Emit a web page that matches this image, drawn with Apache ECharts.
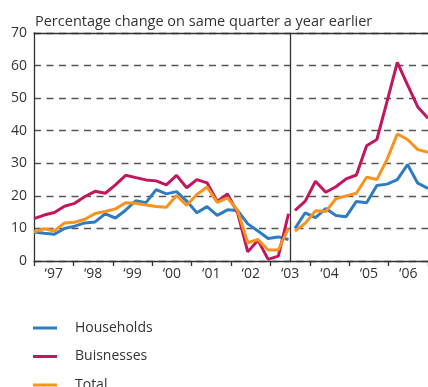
<!DOCTYPE html>
<html>
<head>
<meta charset="utf-8">
<script src="https://cdn.jsdelivr.net/npm/echarts@6/dist/echarts.min.js"></script>
<style>
  html, body { margin: 0; padding: 0; background: #fff; }
  #chart { width: 428px; height: 387px; }
</style>
</head>
<body>
<div id="chart"></div>
<script>
// Year labels along the bottom axis (one per calendar year)
const yearLabels = ['‘97', '‘98', '‘99', '‘00', '‘01', '‘02', '‘03', '‘04', '‘05', '‘06'];
const yTicks = [0, 10, 20, 30, 40, 50, 60, 70];

// Old series definition: 1997 Q1 – 2003 Q2 (quarterly, % change y/y)
const householdsOld = [8.9, 8.5, 8.2, 10.0, 10.7, 11.7, 12.0, 14.5, 13.2, 15.6, 18.5, 17.9, 21.9,
  20.6, 21.3, 18.4, 14.8, 16.7, 14.0, 15.7, 15.5, 11.4, 9.2, 6.9, 7.4, 6.6];
const businessesOld = [13.0, 14.1, 14.9, 16.8, 17.7, 19.8, 21.4, 20.8, 23.4, 26.3, 25.6, 24.9, 24.6,
  23.4, 26.3, 22.5, 25.0, 24.0, 18.3, 20.6, 14.8, 2.8, 6.4, 0.5, 1.5, 14.5];
const totalOld = [8.9, 9.9, 9.2, 11.7, 11.9, 12.8, 14.6, 15.2, 16.0, 17.9, 17.7, 17.2, 16.7,
  16.5, 20.1, 17.1, 20.4, 22.7, 18.0, 19.4, 15.5, 5.6, 6.6, 3.4, 3.4, 10.1];

// New series definition: 2003 Q3 – 2006 Q4
const householdsNew = [10.0, 14.8, 13.3, 16.1, 14.0, 13.6, 18.3, 17.9, 23.2, 23.6, 25.0, 29.6, 23.9, 22.3];
const businessesNew = [15.5, 18.4, 24.5, 21.1, 22.8, 25.2, 26.4, 35.4, 37.3, 49.0, 61.0, 54.1, 47.3, 43.8];
const totalNew = [9.2, 11.6, 15.4, 15.2, 19.1, 20.0, 20.8, 25.7, 25.0, 31.2, 39.0, 37.3, 34.2, 33.4];

const seriesNames = ['Households', 'Buisnesses', 'Total'];
const colors = ['#2f7cc0', '#c0175f', '#f7931e'];

const breakQuarter = householdsOld.length;          // first quarter of the new definition
const totalQuarters = yearLabels.length * 4;

// quarter index -> [x, y] pairs
function pairs(values, start) {
  return values.map((v, i) => [start + i, v]);
}

const FONT = '"Open Sans", "Noto Sans", sans-serif';
const TXT = '#333';
const TOP = 33, BOTTOM = 126;

const chart = echarts.init(document.getElementById('chart'), null, { renderer: 'canvas' });

const lineStyle = (c) => ({ type: 'line', showSymbol: false, symbol: 'none', lineStyle: { width: 3, color: c }, itemStyle: { color: c }, animation: false });

const option = {
  animation: false,
  textStyle: { fontFamily: FONT },
  title: {
    text: 'Percentage change on same quarter a year earlier',
    left: 35, top: 14, padding: 0,
    textStyle: { fontFamily: FONT, fontSize: 14.5, fontWeight: 'normal', color: TXT }
  },
  legend: {
    orient: 'vertical',
    left: 33, top: 319, height: 120, padding: 0,
    itemWidth: 24, itemHeight: 3, itemGap: 10.5,
    icon: 'rect',
    data: seriesNames,
    textStyle: { fontFamily: FONT, fontSize: 14, color: TXT, lineHeight: 18, padding: [0, 0, 0, 13] }
  },
  grid: [
    { left: 34, right: -1.6, top: TOP, bottom: BOTTOM },   // frame, ticks, gridlines
    { left: 34, width: 254.5, top: TOP, bottom: BOTTOM },  // old definition
    { left: 295, width: 133, top: TOP, bottom: BOTTOM }    // new definition
  ],
  xAxis: [
    { // year ticks
      gridIndex: 0, type: 'value', min: 0, max: totalQuarters, interval: 4, position: 'bottom',
      axisLine: { show: true, lineStyle: { color: '#333', width: 1.3 } },
      axisTick: { show: true, inside: false, length: 5, lineStyle: { color: '#333', width: 1.3 } },
      axisLabel: { show: false }, splitLine: { show: false }
    },
    { // year labels, centred on each year
      gridIndex: 0, type: 'value', min: 0, max: totalQuarters, interval: 2, position: 'bottom',
      axisLine: { show: false }, axisTick: { show: false }, splitLine: { show: false },
      axisLabel: {
        show: true, margin: 6, fontFamily: FONT, fontSize: 14, color: TXT,
        showMinLabel: false, showMaxLabel: false,
        formatter: (v) => (v % 4 === 2 ? yearLabels[(v - 2) / 4] : '')
      }
    },
    { // top frame line
      gridIndex: 0, type: 'value', min: 0, max: totalQuarters, position: 'top',
      axisLine: { show: true, lineStyle: { color: '#333', width: 1.3 } },
      axisTick: { show: false }, axisLabel: { show: false }, splitLine: { show: false }
    },
    { gridIndex: 1, type: 'value', min: 0, max: breakQuarter - 1, show: false },
    { gridIndex: 2, type: 'value', min: breakQuarter, max: totalQuarters - 1, show: false }
  ],
  yAxis: [
    {
      gridIndex: 0, type: 'value', min: yTicks[0], max: yTicks[yTicks.length - 1], interval: 10,
      axisLine: { show: true, lineStyle: { color: '#333', width: 1.3 } },
      axisTick: { show: false },
      axisLabel: { margin: 7, fontFamily: FONT, fontSize: 14, color: TXT },
      splitLine: { show: true, lineStyle: { color: '#555', width: 1.3, type: [7, 5.5] } }
    },
    { gridIndex: 1, type: 'value', min: 0, max: 70, show: false },
    { gridIndex: 2, type: 'value', min: 0, max: 70, show: false }
  ],
  series: [
    { // break between the two series definitions
      type: 'line', xAxisIndex: 0, yAxisIndex: 0, data: [], silent: true,
      markLine: {
        symbol: 'none', silent: true, label: { show: false },
        lineStyle: { color: '#333', width: 1.3, type: 'solid' },
        data: [{ xAxis: breakQuarter }]
      }
    },
    Object.assign(lineStyle(colors[0]), { name: seriesNames[0], xAxisIndex: 3, yAxisIndex: 1, data: pairs(householdsOld, 0) }),
    Object.assign(lineStyle(colors[1]), { name: seriesNames[1], xAxisIndex: 3, yAxisIndex: 1, data: pairs(businessesOld, 0) }),
    Object.assign(lineStyle(colors[2]), { name: seriesNames[2], xAxisIndex: 3, yAxisIndex: 1, data: pairs(totalOld, 0) }),
    Object.assign(lineStyle(colors[0]), { name: seriesNames[0], xAxisIndex: 4, yAxisIndex: 2, data: pairs(householdsNew, breakQuarter) }),
    Object.assign(lineStyle(colors[1]), { name: seriesNames[1], xAxisIndex: 4, yAxisIndex: 2, data: pairs(businessesNew, breakQuarter) }),
    Object.assign(lineStyle(colors[2]), { name: seriesNames[2], xAxisIndex: 4, yAxisIndex: 2, data: pairs(totalNew, breakQuarter) })
  ]
};

chart.setOption(option);
</script>
</body>
</html>
